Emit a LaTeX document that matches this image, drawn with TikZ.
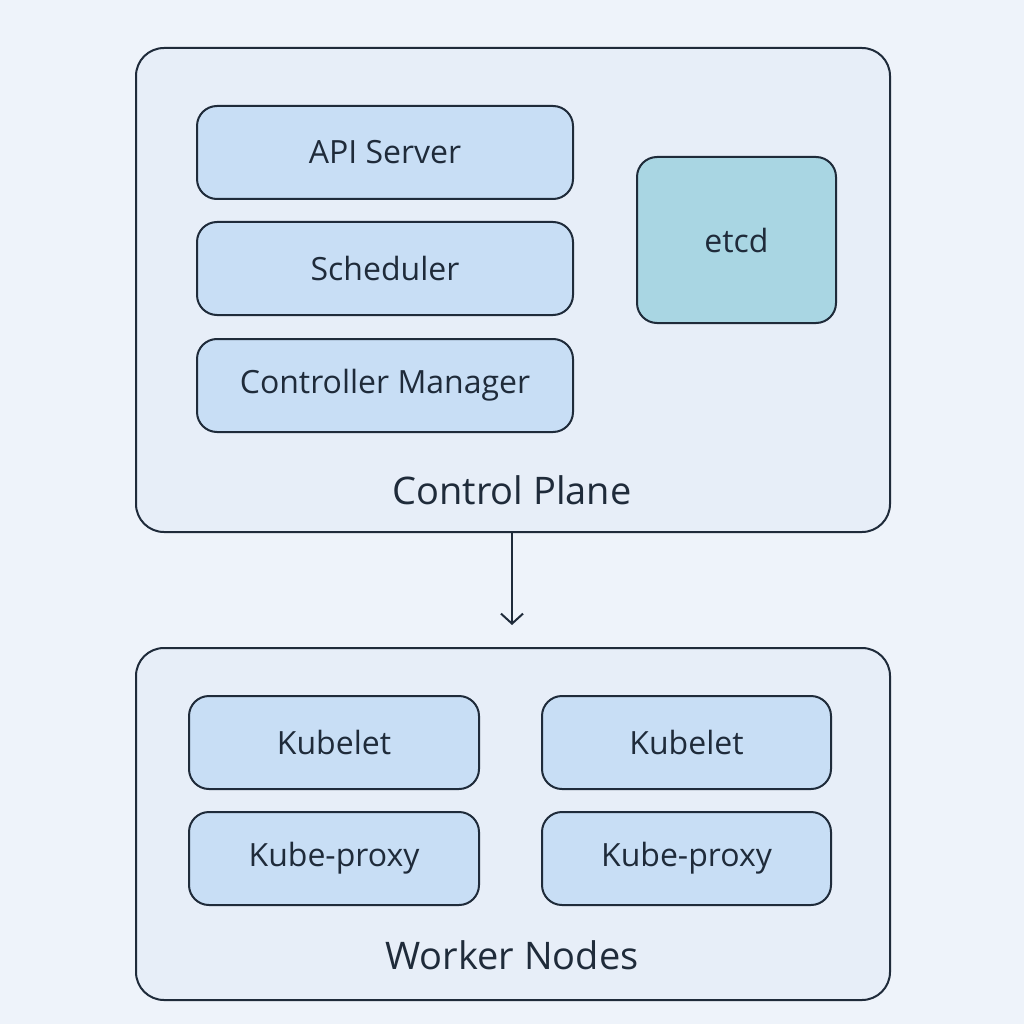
\documentclass[tikz,border=0pt]{standalone}
\usepackage{fontspec}
\setmainfont{Open Sans}
\usetikzlibrary{arrows.meta}
\definecolor{bg}{HTML}{EEF3FA}
\definecolor{outer}{HTML}{E7EEF8}
\definecolor{inner}{HTML}{C8DEF5}
\definecolor{etcdc}{HTML}{A9D6E3}
\definecolor{ink}{HTML}{1F2B3A}
\begin{document}
\begin{tikzpicture}[x=1pt,y=-1pt,
  group/.style={draw=ink,line width=2pt,fill=outer,rounded corners=28pt},
  comp/.style={draw=ink,line width=2pt,fill=inner,rounded corners=20pt,inner sep=0pt,font=\fontsize{32}{36}\selectfont,text=ink},
  lbl/.style={font=\fontsize{38}{42}\selectfont,text=ink}]
\fill[bg] (0,0) rectangle (1024,1024);
\draw[group] (136,48) rectangle (890,532);
\coordinate (cpb) at (512,532);
\node[comp,minimum width=376pt,minimum height=93pt] (api) at (385,152.5) {API Server};
\node[comp,minimum width=376pt,minimum height=93pt] (sch) at (385,268.5) {Scheduler};
\node[comp,minimum width=376pt,minimum height=93pt] (cm) at (385,385.5) {Controller Manager};
\node[comp,fill=etcdc,minimum width=199pt,minimum height=166pt] (etcd) at (736.5,240) {etcd};
\node[lbl] (cp) at (512,490) {Control Plane};
\draw[group] (136,648) rectangle (890,1000);
\coordinate (wnt) at (512,625);
\node[comp,minimum width=290pt,minimum height=93pt] (k1) at (334,742.5) {Kubelet};
\node[comp,minimum width=289pt,minimum height=93pt] (k2) at (686.5,742.5) {Kubelet};
\node[comp,minimum width=290pt,minimum height=93pt] (p1) at (334,858.5) {Kube-proxy};
\node[comp,minimum width=289pt,minimum height=93pt] (p2) at (686.5,858.5) {Kube-proxy};
\node[lbl] (wn) at (512,955) {Worker Nodes};
\draw[ink,line width=2pt,-{Straight Barb[length=10pt,width=22pt]}] (cpb) -- (wnt);
\end{tikzpicture}
\end{document}
